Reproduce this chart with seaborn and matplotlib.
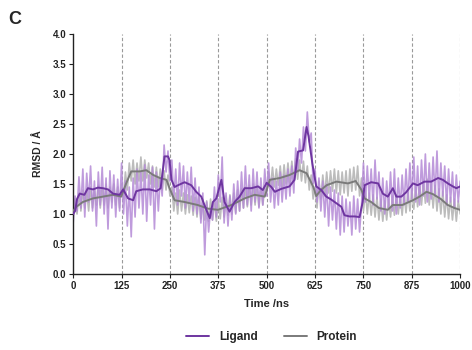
import numpy as np
import pandas as pd
import matplotlib
matplotlib.use("Agg")
import matplotlib.pyplot as plt
import seaborn as sns
from matplotlib.lines import Line2D

# ---------------- data ----------------
raw_time = list(range(0, 1001, 5))

ligand_raw = [
    0.85, 1.30, 1.05, 1.62, 1.10, 1.75, 0.95, 1.68, 1.20, 1.80, 1.05, 1.55, 0.80, 1.70, 1.15, 1.78, 1.00, 1.60, 0.75, 1.72, 1.10, 1.65, 0.95, 1.58, 1.05,
    1.85, 1.00, 1.55, 0.80, 1.45, 0.62, 1.60, 0.95, 1.75, 1.10, 1.70, 1.00, 1.82, 0.88, 1.65, 1.15, 1.78, 0.75, 1.70, 1.05, 1.60, 1.30, 2.15, 1.70, 2.05,
    1.55, 1.90, 1.25, 1.75, 1.15, 1.85, 1.30, 1.80, 1.10, 1.70, 1.20, 1.78, 1.05, 1.60, 1.00, 1.45, 0.85, 1.35, 0.32, 1.20, 0.70, 1.10, 0.90, 1.45, 0.95,
    1.65, 1.20, 1.95, 0.85, 1.35, 0.80, 1.30, 0.90, 1.50, 1.00, 1.55, 1.05, 1.70, 1.10, 1.80, 1.15, 1.65, 1.05, 1.75, 1.20, 1.70, 1.10, 1.60, 1.15, 1.75,
    1.30, 1.85, 1.20, 1.60, 1.10, 1.55, 1.15, 1.70, 1.20, 1.65, 1.25, 1.75, 1.30, 1.80, 1.35, 2.10, 1.70, 2.25, 1.85, 2.45, 2.05, 2.70, 2.20, 2.35, 1.50,
    1.75, 1.20, 1.60, 1.05, 1.55, 0.95, 1.50, 0.80, 1.45, 0.90, 1.40, 0.75, 1.35, 0.65, 1.30, 0.70, 1.25, 0.80, 1.20, 0.65, 1.30, 0.75, 1.25, 0.70, 1.15,
    1.85, 1.20, 1.80, 1.25, 1.75, 1.15, 1.90, 1.25, 1.70, 1.05, 1.60, 1.00, 1.55, 1.10, 1.70, 1.05, 1.75, 1.00, 1.60, 1.10, 1.65, 1.15, 1.75, 1.20, 1.85,
    1.25, 1.95, 1.20, 1.80, 1.15, 1.90, 1.30, 2.00, 1.20, 1.85, 1.25, 1.95, 1.30, 2.05, 1.20, 1.85, 1.30, 1.80, 1.15, 1.75, 1.20, 1.70, 1.10, 1.65, 1.20, 1.55,
]

protein_raw = [
    0.95, 1.25, 1.00, 1.35, 1.05, 1.40, 1.10, 1.38, 1.05, 1.45, 1.10, 1.40, 1.15, 1.48, 1.10, 1.45, 1.15, 1.50, 1.10, 1.45, 1.20, 1.50, 1.15, 1.45, 1.10,
    1.50, 1.25, 1.70, 1.40, 1.85, 1.55, 1.90, 1.50, 1.85, 1.55, 1.95, 1.55, 1.90, 1.60, 1.85, 1.50, 1.80, 1.45, 1.78, 1.45, 1.75, 1.40, 1.72, 1.40, 1.65,
    1.30, 1.45, 1.05, 1.35, 1.00, 1.40, 1.05, 1.35, 1.00, 1.32, 1.02, 1.30, 0.98, 1.28, 0.95, 1.30, 0.92, 1.25, 0.90, 1.22, 0.88, 1.25, 0.90, 1.20, 0.88,
    1.25, 0.92, 1.28, 0.95, 1.30, 0.98, 1.32, 1.00, 1.35, 1.02, 1.40, 1.05, 1.42, 1.10, 1.45, 1.12, 1.48, 1.15, 1.50, 1.15, 1.48, 1.12, 1.45, 1.15, 1.42,
    1.40, 1.70, 1.45, 1.78, 1.45, 1.75, 1.48, 1.80, 1.45, 1.82, 1.50, 1.85, 1.50, 1.88, 1.55, 1.92, 1.58, 1.90, 1.55, 1.88, 1.52, 1.80, 1.40, 1.65, 1.25,
    1.45, 1.10, 1.55, 1.25, 1.65, 1.30, 1.70, 1.35, 1.72, 1.38, 1.75, 1.35, 1.72, 1.32, 1.70, 1.35, 1.72, 1.30, 1.75, 1.38, 1.78, 1.40, 1.80, 1.30, 1.60,
    1.05, 1.40, 1.00, 1.35, 0.98, 1.32, 0.95, 1.28, 0.90, 1.25, 0.88, 1.22, 0.90, 1.25, 0.95, 1.30, 0.98, 1.32, 1.00, 1.30, 0.98, 1.35, 1.02, 1.38, 1.05,
    1.40, 1.08, 1.45, 1.12, 1.50, 1.15, 1.55, 1.18, 1.58, 1.15, 1.52, 1.10, 1.48, 1.05, 1.42, 1.00, 1.38, 0.95, 1.32, 0.92, 1.28, 0.90, 1.25, 0.88, 1.22, 1.00,
]

ligand_smooth_time = [0, 5, 10, 17, 29, 38, 51, 64, 77, 90, 103, 120, 129, 142, 155, 163, 180, 198, 215, 226,
                      236, 245, 249, 254, 262, 271, 288, 305, 318, 331, 344, 353, 361, 370, 383, 391, 404, 417,
                      430, 443, 460, 478, 490, 500, 512, 521, 538, 559, 572, 581, 594, 603, 608, 618, 628, 641,
                      654, 667, 680, 693, 701, 714, 727, 740, 748, 753, 770, 788, 800, 813, 826, 835, 848, 860,
                      878, 890, 908, 925, 943, 955, 968, 981, 990, 1000]
ligand_smooth = [1.00, 1.05, 1.25, 1.34, 1.32, 1.43, 1.41, 1.44, 1.43, 1.41, 1.34, 1.32, 1.41, 1.26, 1.23, 1.38, 1.41, 1.41, 1.38, 1.43,
                 1.96, 1.96, 1.90, 1.57, 1.45, 1.48, 1.53, 1.48, 1.37, 1.29, 1.07, 0.93, 1.20, 1.26, 1.57, 1.20, 1.04, 1.20,
                 1.29, 1.43, 1.43, 1.46, 1.40, 1.52, 1.45, 1.37, 1.42, 1.46, 1.57, 2.04, 2.06, 2.45, 2.30, 1.84, 1.46, 1.40,
                 1.29, 1.24, 1.18, 1.12, 0.98, 0.96, 0.96, 0.95, 1.20, 1.48, 1.53, 1.51, 1.34, 1.29, 1.43, 1.29, 1.29, 1.36,
                 1.51, 1.48, 1.54, 1.54, 1.60, 1.57, 1.51, 1.46, 1.43, 1.46]

protein_smooth_time = [0, 8, 25, 51, 77, 103, 124, 137, 150, 172, 189, 207, 224, 241, 249, 262, 288, 322, 348, 374,
                       409, 443, 469, 495, 508, 534, 559, 585, 603, 620, 628, 640, 655, 680, 710, 730, 745, 753,
                       770, 790, 813, 826, 850, 878, 895, 913, 930, 950, 968, 985, 1000]
protein_smooth = [1.05, 1.12, 1.20, 1.26, 1.29, 1.32, 1.29, 1.51, 1.71, 1.71, 1.73, 1.65, 1.60, 1.57, 1.43, 1.23, 1.20, 1.15, 1.09, 1.07,
                  1.15, 1.26, 1.32, 1.29, 1.57, 1.60, 1.65, 1.73, 1.68, 1.46, 1.30, 1.40, 1.48, 1.54, 1.51, 1.55, 1.40, 1.26,
                  1.20, 1.10, 1.07, 1.15, 1.15, 1.23, 1.29, 1.37, 1.33, 1.25, 1.15, 1.10, 1.07]

x_ticks = [0, 125, 250, 375, 500, 625, 750, 875, 1000]
y_ticks = [0.0, 0.5, 1.0, 1.5, 2.0, 2.5, 3.0, 3.5, 4.0]
series_names = ["Ligand", "Protein"]

# ---------------- style ----------------
sns.set_style("ticks")
plt.rcParams["font.family"] = ["Liberation Sans", "DejaVu Sans"]
plt.rcParams["font.weight"] = "bold"

LIG_DARK = "#6E35A0"
LIG_LIGHT = "#B48AD6"
PRO_DARK = "#7A7A7A"
PRO_LIGHT = "#BCBCBC"

fig = plt.figure(figsize=(4.72, 3.5), dpi=100)
ax = fig.add_axes([0.155, 0.217, 0.82, 0.686])

raw_df = pd.DataFrame({"t": raw_time, "lig": ligand_raw, "pro": protein_raw})
lig_df = pd.DataFrame({"t": ligand_smooth_time, "v": ligand_smooth})
pro_df = pd.DataFrame({"t": protein_smooth_time, "v": protein_smooth})

for xv in x_ticks[1:]:
    ax.axvline(xv, color="#9A9A9A", linestyle=(0, (3, 2)), linewidth=0.8, zorder=0)

sns.lineplot(data=raw_df, x="t", y="pro", ax=ax, color=PRO_LIGHT, linewidth=1.2,
             estimator=None, sort=False, zorder=1)
sns.lineplot(data=raw_df, x="t", y="lig", ax=ax, color=LIG_LIGHT, linewidth=1.2, alpha=0.85,
             estimator=None, sort=False, zorder=2)
sns.lineplot(data=pro_df, x="t", y="v", ax=ax, color=PRO_DARK, linewidth=1.4,
             estimator=None, sort=False, zorder=3)
sns.lineplot(data=lig_df, x="t", y="v", ax=ax, color=LIG_DARK, linewidth=1.4,
             estimator=None, sort=False, zorder=4)

ax.set_xlim(0, 1000)
ax.set_ylim(0, 4.0)
ax.set_xticks(x_ticks)
ax.set_xticklabels([str(v) for v in x_ticks])
ax.set_yticks(y_ticks)
ax.set_yticklabels([f"{v:.1f}" for v in y_ticks])
ax.tick_params(axis="both", labelsize=7, length=3, width=0.8, pad=2, colors="#222222")
for lab in ax.get_xticklabels() + ax.get_yticklabels():
    lab.set_fontweight("bold")
sns.despine(ax=ax)
for s in ("left", "bottom"):
    ax.spines[s].set_linewidth(1.0)
    ax.spines[s].set_color("#222222")

ax.set_xlabel("Time /ns", fontsize=8, fontweight="bold", labelpad=6)
ax.set_ylabel("RMSD / Å", fontsize=7.5, fontweight="bold", labelpad=7)

fig.text(0.018, 0.945, "C", fontsize=13, fontweight="bold", ha="left", va="center")

handles = [Line2D([0], [0], color=LIG_DARK, linewidth=1.4),
           Line2D([0], [0], color=PRO_DARK, linewidth=1.4)]
leg = fig.legend(handles, series_names, loc="center", bbox_to_anchor=(0.575, 0.037),
                 ncol=2, frameon=False, fontsize=8.5, handlelength=2.0, columnspacing=2.2,
                 handletextpad=0.8)
for t in leg.get_texts():
    t.set_fontweight("bold")

fig.savefig("out.png", dpi=100)
